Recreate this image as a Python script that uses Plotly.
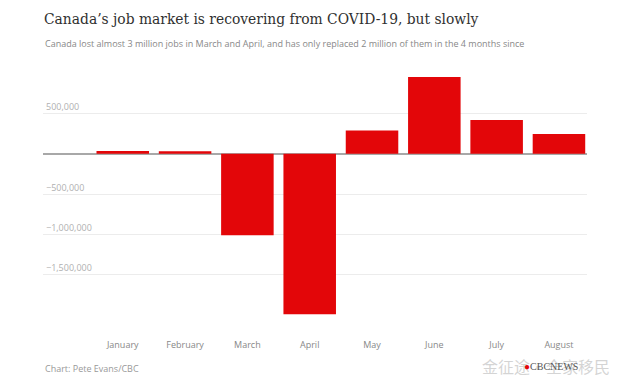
import plotly.graph_objects as go

months = ["January", "February", "March", "April", "May", "June", "July", "August"]
job_change = [34500, 30300, -1011000, -1993800, 289600, 952900, 418500, 245800]

ytick_vals = [500000, -500000, -1000000, -1500000]
ytick_text = ["500,000", "\u2212500,000", "\u22121,000,000", "\u22121,500,000"]

title_text = "Canada\u2019s job market is recovering from COVID-19, but slowly"
subtitle_text = "Canada lost almost 3 million jobs in March and April, and has only replaced 2 million of them in the 4 months since"
source_text = "Chart: Pete Evans/CBC"
watermark_text = "\u91d1\u5f81\u9014\u00b7\u5168\u5bb6\u79fb\u6c11"
logo_text = "CBCNEWS"

fig = go.Figure()
fig.add_trace(go.Bar(
    x=list(range(len(months))), y=job_change,
    marker=dict(color="#e30609", line=dict(width=0)),
    hoverinfo="skip",
))

fig.update_layout(
    width=624, height=381,
    margin=dict(l=43, r=37, t=70, b=63, autoexpand=False),
    paper_bgcolor="white", plot_bgcolor="white",
    bargap=0.157,
    showlegend=False,
    font=dict(family="Open Sans", color="#888"),
    xaxis=dict(
        range=[-1.28, 7.45], automargin=False,
        tickmode="array", tickvals=list(range(len(months))), ticktext=months,
        showgrid=False, zeroline=False, showline=False,
        ticks="", ticklabelstandoff=20,
        tickfont=dict(family="Open Sans", size=9, color="#888"),
    ),
    yaxis=dict(
        range=[-2040000, 1040000], automargin=False,
        tickmode="array", tickvals=ytick_vals, ticktext=ytick_text,
        ticklabelposition="inside top",
        showgrid=True, gridcolor="#ececec", gridwidth=1,
        zeroline=True, zerolinecolor="#a8a8a8", zerolinewidth=1.5,
        showline=False, ticks="",
        tickfont=dict(family="Open Sans", size=9, color="#b0b0b0"),
    ),
)

def px_ann(text, x, y, size, color, family, anchor="left"):
    return dict(text=text, xref="paper", yref="paper",
                x=(x - 43) / 544, y=(318 - y) / 248,
                xanchor=anchor, yanchor="middle", showarrow=False,
                font=dict(size=size, color=color, family=family))

fig.add_annotation(px_ann(title_text, 42, 19, 15.4, "#303030", "DejaVu Serif Condensed"))
fig.add_annotation(px_ann(subtitle_text, 43, 43, 9, "#888888", "Open Sans"))
fig.add_annotation(px_ann(source_text, 43, 368, 9, "#999999", "Open Sans"))
fig.add_annotation(px_ann(watermark_text, 480, 366, 16, "rgba(205,205,205,0.85)", "Noto Sans CJK SC"))
fig.add_annotation(px_ann("<span style='color:#e30609'>\u25cf</span>" + logo_text, 522, 366, 10, "#555555", "Liberation Sans Narrow"))

fig.write_html("out.html", config={"displayModeBar": False},
               post_script="document.body.style.margin='0';")
